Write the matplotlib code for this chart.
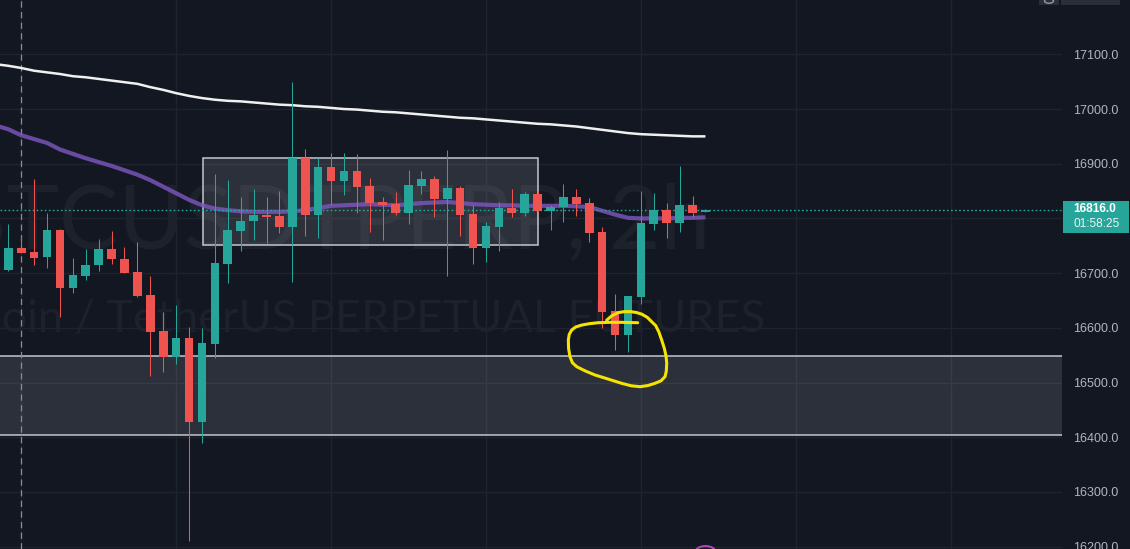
import numpy as np
import matplotlib
matplotlib.use("Agg")
import matplotlib.pyplot as plt
from matplotlib.patches import Rectangle, Circle
from matplotlib.transforms import blended_transform_factory

# ---- data (2h candles) ----
opens = [16706, 16746, 16739, 16729, 16779, 16672, 16695, 16714, 16744, 16726,
         16702, 16660, 16594, 16547, 16581, 16428, 16571, 16717, 16777, 16795,
         16806, 16804, 16785, 16911, 16807, 16894, 16869, 16887, 16859, 16830,
         16826, 16809, 16860, 16872, 16836, 16856, 16808, 16746, 16785, 16819,
         16809, 16845, 16814, 16820, 16839, 16828, 16775, 16631, 16586, 16657,
         16790, 16815, 16792, 16825, 16812]
highs = [16790, 16768, 16872, 16810, 16781, 16728, 16744, 16762, 16777, 16748,
         16757, 16695, 16629, 16642, 16601, 16600, 16881, 16870, 16839, 16854,
         16839, 16850, 17049, 16927, 16911, 16920, 16920, 16918, 16874, 16839,
         16848, 16889, 16887, 16878, 16925, 16859, 16825, 16793, 16830, 16854,
         16848, 16850, 16825, 16863, 16854, 16837, 16784, 16662, 16658, 16850,
         16846, 16828, 16896, 16841, 16817]
lows = [16704, 16737, 16715, 16710, 16620, 16664, 16687, 16703, 16717, 16700,
        16657, 16512, 16520, 16534, 16211, 16390, 16544, 16682, 16741, 16761,
        16755, 16773, 16684, 16768, 16765, 16825, 16843, 16810, 16775, 16761,
        16807, 16789, 16845, 16803, 16695, 16767, 16717, 16721, 16741, 16803,
        16805, 16812, 16779, 16794, 16805, 16756, 16600, 16560, 16556, 16644,
        16778, 16765, 16776, 16803, 16811]
closes = [16746, 16737, 16728, 16779, 16672, 16697, 16715, 16744, 16725, 16701,
          16659, 16593, 16547, 16581, 16428, 16572, 16719, 16779, 16795, 16806,
          16802, 16785, 16911, 16807, 16894, 16869, 16887, 16858, 16829, 16825,
          16809, 16861, 16872, 16836, 16856, 16807, 16745, 16786, 16819, 16809,
          16845, 16814, 16821, 16839, 16827, 16774, 16629, 16586, 16658, 16792,
          16815, 16792, 16825, 16810, 16816]

# moving averages, starting one bar before the first visible candle
ma_slow = [17082, 17079, 17075, 17070, 17067, 17064, 17060, 17058, 17055, 17052,
           17049, 17046, 17040, 17035, 17029, 17024, 17020, 17017, 17015, 17014,
           17012, 17010, 17008, 17007, 17005, 17004, 17002, 17000, 16999, 16997,
           16995, 16994, 16992, 16990, 16988, 16986, 16984, 16983, 16981, 16979,
           16977, 16975, 16973, 16972, 16970, 16968, 16965, 16962, 16959, 16956,
           16954, 16953, 16952, 16951, 16950, 16950]
ma_fast = [16970, 16963, 16952, 16945, 16938, 16926, 16918, 16910, 16903, 16896,
           16888, 16880, 16870, 16858, 16846, 16834, 16824, 16818, 16815, 16813,
           16812, 16812, 16812, 16813, 16815, 16819, 16823, 16824, 16825, 16826,
           16825, 16824, 16826, 16828, 16829, 16830, 16828, 16826, 16825, 16824,
           16824, 16823, 16823, 16823, 16823, 16822, 16821, 16814, 16807, 16801,
           16800, 16800, 16800, 16801, 16801, 16802]

# drawn zones: (x0, x1, low, high) in candle index / price
range_box = (15.08, 41.03, 16751, 16910)
demand_zone = (16404, 16548)

# yellow hand drawn loop (candle index, price)
loop_x = [46.35, 46.75, 47.22, 47.7, 48.2, 48.65, 49.06, 49.5, 49.84, 50.15,
          50.4, 50.61, 50.82, 50.95, 51.0, 50.97, 50.87, 50.55, 50.09, 49.55,
          48.93, 48.25, 47.51, 46.5, 45.45, 44.7, 44.03, 43.7, 43.51, 43.4,
          43.38, 43.45, 43.64, 43.95, 44.42, 45.0, 45.68, 46.6, 47.51, 48.2,
          48.75]
loop_y = [16614, 16622, 16627.6, 16629.5, 16629.5, 16628, 16625, 16619, 16611, 16604,
          16592, 16577.7, 16562, 16548, 16535.6, 16521, 16510.6, 16503, 16498.5, 16494.5,
          16492.3, 16494, 16498.5, 16506, 16513.7, 16521, 16528.9, 16536, 16547, 16562,
          16577.7, 16588, 16596, 16601.5, 16605, 16607.5, 16609.3, 16610, 16610, 16609.6,
          16609.3]

price_ticks = list(range(16200, 17101, 100))
last_price = closes[-1]
countdown = "01:58:25"
title_big = "BTCUSDTPERP, 2h"
title_small = "Bitcoin / TetherUS PERPETUAL FUTURES"

# ---- style ----
BG = "#131722"
GREEN = "#26a69a"
RED = "#ef5350"
GRID = "#1f232e"
TXT = "#b2b5be"

W, H = 1130, 549
PANE_W = 1062
fig = plt.figure(figsize=(W / 100, H / 100), dpi=100, facecolor=BG)
ax = fig.add_axes([0, 0, PANE_W / W, 1])
ax.set_facecolor(BG)

n = len(opens)
idx = np.arange(n)
ma_idx = np.arange(-1, n)
ax.set_xlim(-0.643, -0.643 + PANE_W / 12.91)
ax.set_ylim(16195.6, 17199.3)

# grid
for gx in range(1, n + 30, 12):
    ax.axvline(gx, color=GRID, lw=1.0, zorder=0)
for p in price_ticks:
    ax.axhline(p, color=GRID, lw=1.0, zorder=0)

# watermark
ax.text(710 / PANE_W, 1 - 249 / H, title_big, transform=ax.transAxes,
        ha="right", va="baseline", fontsize=64, color="#1d212c",
        family="Lato", zorder=0.5)
ax.text(765 / PANE_W, 1 - 332 / H, title_small, transform=ax.transAxes,
        ha="right", va="baseline", fontsize=32.5, color="#1d212c",
        family="Lato", zorder=0.5)

# zones
ax.axhspan(demand_zone[0], demand_zone[1], facecolor="#ffffff", alpha=0.11,
           edgecolor="none", zorder=1)
ax.axhline(demand_zone[0], color="#c4c6cc", lw=1.1, zorder=1.1)
ax.axhline(demand_zone[1], color="#c4c6cc", lw=1.1, zorder=1.1)
bx0, bx1, blo, bhi = range_box
ax.add_patch(Rectangle((bx0, blo), bx1 - bx0, bhi - blo, facecolor="#ffffff",
                       alpha=0.11, edgecolor="none", zorder=1))
ax.add_patch(Rectangle((bx0, blo), bx1 - bx0, bhi - blo, facecolor="none",
                       edgecolor="#c4c6cc", lw=1.1, zorder=1.1))

# session separator
ax.axvline(1, color="#8a8d96", lw=0.9, dashes=(5, 3.5), zorder=1.2)

# moving averages
ax.plot(ma_idx, ma_slow, color="#f0f0f0", lw=1.8, zorder=2, solid_capstyle="butt")
ax.plot(ma_idx, ma_fast, color="#7e57c2", alpha=0.8, lw=3.0, zorder=2,
        solid_capstyle="butt")

# last price line
ax.axhline(last_price, color=GREEN, lw=1.0, dashes=(1.2, 1.7), zorder=2.5)

# candles
o = np.array(opens, float)
c = np.array(closes, float)
cols = [GREEN if cc >= oo else RED for oo, cc in zip(o, c)]
ax.vlines(idx, lows, highs, colors=cols, lw=0.75, zorder=3)
body = np.maximum(np.abs(c - o), 2.5)
ax.bar(idx, body, bottom=np.minimum(o, c), width=0.67, color=cols,
       linewidth=0, zorder=3.1)

# yellow annotation
ax.plot(loop_x, loop_y, color="#f7e300", lw=2.2, zorder=5,
        solid_joinstyle="round", solid_capstyle="round")

# price scale (labels under the last-price badge are hidden, as on the chart)
badge_lo, badge_hi = last_price - 42, last_price + 15
ax.yaxis.tick_right()
ax.set_yticks(price_ticks)
ax.set_yticklabels(["" if badge_lo - 10 < p < badge_hi + 10 else f"{p:.1f}"
                    for p in price_ticks])
ax.tick_params(axis="y", length=0, pad=8, labelsize=9, labelcolor=TXT)
for lab in ax.get_yticklabels():
    lab.set_family("Liberation Sans")
ax.set_xticks([])
for s in ax.spines.values():
    s.set_visible(False)

# last price badge
tr = blended_transform_factory(ax.transAxes, ax.transData)
ax.add_patch(Rectangle((1.0005, badge_lo), 66 / PANE_W, badge_hi - badge_lo,
                       transform=tr, facecolor=GREEN, edgecolor="none",
                       clip_on=False, zorder=6))
ax.text(1 + 11 / PANE_W, last_price + 1, f"{last_price:.1f}", transform=tr,
        ha="left", va="center", fontsize=8.6, color="white", fontweight="bold",
        family="Liberation Sans", clip_on=False, zorder=7)
ax.text(1 + 11 / PANE_W, last_price - 27, countdown, transform=tr,
        ha="left", va="center", fontsize=8.6, color="#e8f5f3",
        family="Liberation Sans", clip_on=False, zorder=7)

# UI bits: top-right buttons and bottom icon
fig.patches.append(Rectangle((1039 / W, 1 - 5 / H), 20 / W, 5 / H,
                             transform=fig.transFigure, facecolor="#2a2e39",
                             edgecolor="none"))
fig.patches.append(Rectangle((1061 / W, 1 - 4.5 / H), 59 / W, 4.5 / H,
                             transform=fig.transFigure, facecolor="#2a2e39",
                             edgecolor="none"))
fig.patches.append(Circle((1049 / W, 1 - 1 / H), 4.5 / W, transform=fig.transFigure,
                          facecolor="none", edgecolor="#9598a1", lw=1.0))
ax.add_artist(Circle((705.5 / PANE_W, (H - 551) / H), 9.5 / PANE_W,
                     transform=ax.transAxes, facecolor="none",
                     edgecolor="#ab47bc", lw=1.5, clip_on=False, zorder=6))

fig.savefig("out.png", dpi=100, facecolor=BG)
